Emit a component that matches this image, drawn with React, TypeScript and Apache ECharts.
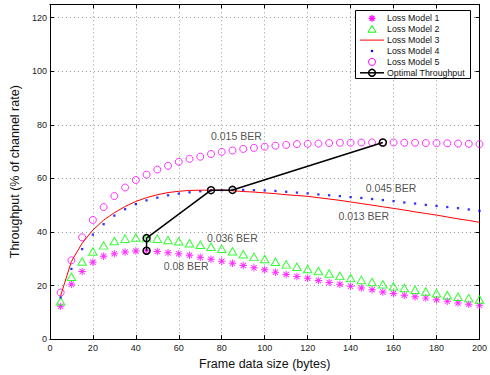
import React, { useEffect, useRef } from "react";
import * as echarts from "echarts";

const frameSizes = [5, 10, 15, 20, 25, 30, 35, 40, 45, 50, 55, 60, 65, 70, 75, 80, 85, 90, 95, 100, 105, 110, 115, 120, 125, 130, 135, 140, 145, 150, 155, 160, 165, 170, 175, 180, 185, 190, 195, 200];

const lossModel1 = [12.3, 20.5, 25.2, 28.7, 30.9, 31.9, 32.5, 32.9, 33.0, 32.7, 32.2, 31.9, 31.3, 30.6, 29.8, 29.1, 28.3, 27.5, 26.6, 25.9, 25.0, 24.1, 23.4, 22.7, 21.9, 21.1, 20.5, 19.7, 19.1, 18.4, 17.6, 17.0, 16.4, 15.8, 15.3, 14.7, 14.1, 13.5, 13.0, 12.5];
const lossModel2 = [14.1, 23.3, 29.0, 32.7, 35.0, 36.6, 37.5, 37.9, 37.7, 37.5, 37.0, 36.5, 35.8, 35.2, 34.5, 33.7, 32.8, 31.7, 30.7, 29.9, 28.9, 27.9, 27.0, 26.2, 25.4, 24.5, 23.6, 22.8, 22.1, 21.3, 20.5, 19.7, 19.1, 18.4, 17.8, 17.1, 16.4, 15.8, 15.3, 14.8];
const lossModel3 = [16.2, 29.0, 35.8, 40.7, 44.4, 47.2, 49.5, 51.4, 52.8, 53.9, 54.7, 55.2, 55.5, 55.6, 55.6, 55.6, 55.4, 55.1, 54.9, 54.6, 54.3, 53.9, 53.6, 53.3, 52.8, 52.3, 51.8, 51.2, 50.6, 50.0, 49.4, 48.8, 48.2, 47.5, 46.9, 46.3, 45.6, 44.9, 44.3, 43.6];
const lossModel4 = [15.6, 26.2, 33.6, 39.0, 42.9, 46.1, 48.5, 50.4, 51.8, 52.8, 53.7, 54.3, 54.8, 55.2, 55.5, 55.6, 55.7, 55.7, 55.6, 55.5, 55.3, 55.0, 54.7, 54.4, 54.0, 53.7, 53.4, 53.0, 52.7, 52.3, 51.9, 51.5, 51.0, 50.6, 50.1, 49.7, 49.3, 48.9, 48.4, 47.9];
const lossModel5 = [17.4, 29.4, 38.0, 44.5, 49.3, 53.4, 56.6, 59.4, 61.4, 63.3, 64.7, 66.2, 67.3, 68.1, 69.1, 69.9, 70.4, 71.0, 71.4, 71.8, 72.2, 72.5, 72.8, 72.9, 73.0, 73.2, 73.3, 73.3, 73.4, 73.4, 73.4, 73.4, 73.3, 73.3, 73.2, 73.2, 73.1, 73.0, 72.9, 72.8];

const optimalX = [45, 45, 75, 85, 155];
const optimalY = [33.0, 37.7, 55.6, 55.7, 73.4];

const berLabels = ["0.015 BER", "0.036 BER", "0.08 BER", "0.045 BER", "0.013 BER"];
const berLabelX = [75, 73.1, 53, 147, 134.3];
const berLabelY = [75.7, 37.9, 27.3, 56.4, 46.0];

const legendNames = ["Loss Model 1", "Loss Model 2", "Loss Model 3", "Loss Model 4", "Loss Model 5", "Optimal Throughput"];

const xTicks = [0, 20, 40, 60, 80, 100, 120, 140, 160, 180, 200];
const yTicks = [0, 20, 40, 60, 80, 100, 120];

const FONT = "'Liberation Sans', Arial, Helvetica, sans-serif";
const ASTERISK =
  "path://M8.7 0 H11.3 V20 H8.7 Z M0 8.7 H20 V11.3 H0 Z M3.85 2.01 L17.99 16.15 L16.15 17.99 L2.01 3.85 Z M16.15 2.01 L17.99 3.85 L3.85 17.99 L2.01 16.15 Z";

const pair = (ys: number[]) => frameSizes.map((x, i) => [x, ys[i]]);

export default function App() {
  const ref = useRef<HTMLDivElement>(null);
  useEffect(() => {
    document.body.style.margin = "0";
    if (!ref.current) return;
    const chart = echarts.init(ref.current, null, { renderer: "svg" });
    const gridLine = { show: true, lineStyle: { color: "#9a9a9a", type: [1, 3] as any, width: 1 } };
    const axisCommon = {
      axisLine: { show: true, onZero: false, lineStyle: { color: "#000", width: 1 } },
      axisTick: { show: true, inside: true, length: 4, lineStyle: { color: "#000", width: 1 } },
    };
    const labelStyle = { fontFamily: FONT, fontSize: 9, color: "#222" };

    const rowY = (i: number) => 18.3 + i * 10.9;
    const ix = 372;
    const legendGraphics: any[] = [
      { type: "rect", shape: { x: 355.5, y: 10.5, width: 115, height: 68 }, style: { fill: "#fff", stroke: "#000", lineWidth: 1 }, z: 100 },
    ];
    {
      const y = rowY(0);
      const r = 3.4, d = 2.4;
      const st = { stroke: "#ff00ff", lineWidth: 1.3 };
      legendGraphics.push(
        { type: "line", shape: { x1: ix - r, y1: y, x2: ix + r, y2: y }, style: st, z: 101 },
        { type: "line", shape: { x1: ix, y1: y - r, x2: ix, y2: y + r }, style: st, z: 101 },
        { type: "line", shape: { x1: ix - d, y1: y - d, x2: ix + d, y2: y + d }, style: st, z: 101 },
        { type: "line", shape: { x1: ix - d, y1: y + d, x2: ix + d, y2: y - d }, style: st, z: 101 }
      );
    }
    {
      const y = rowY(1);
      legendGraphics.push({
        type: "polygon",
        shape: { points: [[ix, y - 3.6], [ix + 4, y + 3], [ix - 4, y + 3]] },
        style: { fill: "none", stroke: "#00ff00", lineWidth: 1 },
        z: 101,
      });
    }
    {
      const y = rowY(2);
      legendGraphics.push({ type: "line", shape: { x1: 360, y1: y, x2: 384, y2: y }, style: { stroke: "#ff0000", lineWidth: 1 }, z: 101 });
    }
    {
      const y = rowY(3);
      legendGraphics.push({ type: "rect", shape: { x: ix - 1.1, y: y - 1.1, width: 2.2, height: 2.2 }, style: { fill: "#0000ff" }, z: 101 });
    }
    {
      const y = rowY(4);
      legendGraphics.push({ type: "circle", shape: { cx: ix, cy: y, r: 3.5 }, style: { fill: "none", stroke: "#ff00ff", lineWidth: 1 }, z: 101 });
    }
    {
      const y = rowY(5);
      legendGraphics.push(
        { type: "line", shape: { x1: 360, y1: y, x2: 384, y2: y }, style: { stroke: "#000", lineWidth: 1.5 }, z: 101 },
        { type: "circle", shape: { cx: ix, cy: y, r: 3.4 }, style: { fill: "none", stroke: "#000", lineWidth: 1.5 }, z: 101 }
      );
    }
    legendNames.forEach((name, i) => {
      legendGraphics.push({
        type: "text",
        x: 387,
        y: rowY(i),
        style: { text: name, fontFamily: FONT, fontSize: 8.8, fill: "#111", verticalAlign: "middle", align: "left" },
        z: 101,
      });
    });

    chart.setOption({
      animation: false,
      backgroundColor: "#fff",
      grid: { left: 49, right: 9.5, top: 4.3, bottom: 31, containLabel: false },
      xAxis: [
        {
          type: "value",
          position: "bottom",
          min: 0,
          max: 200,
          interval: 20,
          ...axisCommon,
          splitLine: gridLine,
          axisLabel: { ...labelStyle, margin: 4, formatter: (v: number) => (xTicks.includes(v) ? String(v) : "") },
          name: "Frame data size (bytes)",
          nameLocation: "middle",
          nameGap: 12,
          nameTextStyle: { fontFamily: FONT, fontSize: 12.5, color: "#111" },
        },
        {
          type: "value",
          position: "top",
          min: 0,
          max: 200,
          interval: 20,
          ...axisCommon,
          splitLine: { show: false },
          axisLabel: { show: false },
        },
      ],
      yAxis: [
        {
          type: "value",
          position: "left",
          min: 0,
          max: 125,
          interval: 20,
          ...axisCommon,
          splitLine: gridLine,
          axisLabel: { ...labelStyle, margin: 3, showMaxLabel: false, formatter: (v: number) => (yTicks.includes(v) ? String(v) : "") },
          name: "Throughput (% of channel rate)",
          nameLocation: "middle",
          nameGap: 22,
          nameTextStyle: { fontFamily: FONT, fontSize: 12.5, color: "#111" },
        },
        {
          type: "value",
          position: "right",
          min: 0,
          max: 125,
          interval: 20,
          ...axisCommon,
          splitLine: { show: false },
          axisLabel: { show: false },
        },
      ],
      series: [
        {
          name: legendNames[0],
          type: "scatter",
          data: pair(lossModel1),
          symbol: ASTERISK,
          symbolSize: 7.5,
          itemStyle: { color: "#ff00ff" },
        },
        {
          name: legendNames[1],
          type: "scatter",
          data: pair(lossModel2),
          symbol: "triangle",
          symbolSize: [8.5, 7.5],
          itemStyle: { color: "rgba(0,0,0,0)", borderColor: "#00ff00", borderWidth: 1 },
        },
        {
          name: legendNames[2],
          type: "line",
          data: pair(lossModel3),
          symbol: "none",
          showSymbol: false,
          lineStyle: { color: "#ff0000", width: 1 },
        },
        {
          name: legendNames[3],
          type: "scatter",
          data: pair(lossModel4),
          symbol: "rect",
          symbolSize: 2.3,
          itemStyle: { color: "#0000ff" },
        },
        {
          name: legendNames[4],
          type: "scatter",
          data: pair(lossModel5),
          symbol: "circle",
          symbolSize: 7,
          itemStyle: { color: "rgba(0,0,0,0)", borderColor: "#ff00ff", borderWidth: 1 },
        },
        {
          name: legendNames[5],
          type: "line",
          data: optimalX.map((x, i) => [x, optimalY[i]]),
          symbol: "circle",
          symbolSize: 7,
          showSymbol: true,
          itemStyle: { color: "rgba(0,0,0,0)", borderColor: "#000", borderWidth: 1.5 },
          lineStyle: { color: "#000", width: 1.5 },
          z: 5,
        },
        {
          name: "labels",
          type: "scatter",
          data: berLabels.map((t, i) => [berLabelX[i], berLabelY[i], t]),
          symbolSize: 0,
          itemStyle: { color: "rgba(0,0,0,0)" },
          label: {
            show: true,
            position: "right",
            distance: 0,
            formatter: (p: any) => p.value[2],
            fontFamily: FONT,
            fontSize: 10.5,
            color: "#222",
          },
          z: 6,
        },
      ],
      graphic: legendGraphics,
    });
    return () => chart.dispose();
  }, []);
  return <div ref={ref} style={{ width: 490, height: 375 }} />;
}
